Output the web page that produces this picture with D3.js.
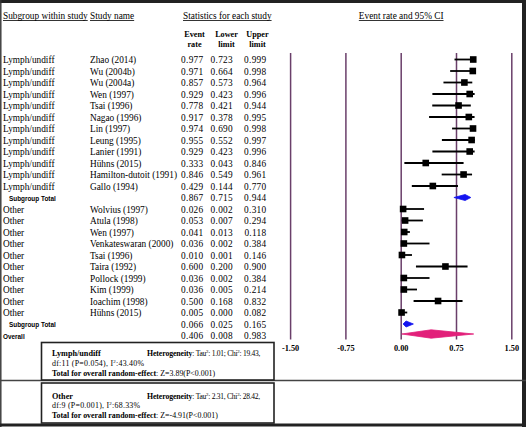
<!DOCTYPE html>
<html>
<head>
<meta charset="utf-8">
<script src="https://cdn.jsdelivr.net/npm/d3@7/dist/d3.min.js"></script>
<style>
  html, body { margin: 0; padding: 0; background: #fff; }
  svg { display: block; }
  .serif { font-family: "Liberation Serif", "Times New Roman", serif; }
  .sans { font-family: "Liberation Sans", Arial, sans-serif; }
</style>
</head>
<body>
<svg id="chart" width="526" height="427"></svg>
<script>
// ---------- data ----------
const subgroups = [
  "Lymph/undiff","Lymph/undiff","Lymph/undiff","Lymph/undiff","Lymph/undiff","Lymph/undiff",
  "Lymph/undiff","Lymph/undiff","Lymph/undiff","Lymph/undiff","Lymph/undiff","Lymph/undiff",
  "Subgroup Total",
  "Other","Other","Other","Other","Other","Other","Other","Other","Other","Other",
  "Subgroup Total",
  "Overall"
];
const studyNames = [
  "Zhao (2014)","Wu (2004b)","Wu (2004a)","Wen (1997)","Tsai (1996)","Nagao (1996)",
  "Lin (1997)","Leung (1995)","Lanier (1991)","Hühns (2015)","Hamilton-dutoit (1991)","Gallo (1994)",
  "",
  "Wolvius (1997)","Atula (1998)","Wen (1997)","Venkateswaran (2000)","Tsai (1996)","Taira (1992)",
  "Pollock (1999)","Kim (1999)","Ioachim (1998)","Hühns (2015)",
  "",
  ""
];
const eventRate = [0.977,0.971,0.857,0.929,0.778,0.917,0.974,0.955,0.929,0.333,0.846,0.429,
  0.867,
  0.026,0.053,0.041,0.036,0.010,0.600,0.036,0.036,0.500,0.005,
  0.066,
  0.406];
const lowerLimit = [0.723,0.664,0.573,0.423,0.421,0.378,0.690,0.552,0.423,0.043,0.549,0.144,
  0.715,
  0.002,0.007,0.013,0.002,0.001,0.200,0.002,0.005,0.168,0.000,
  0.025,
  0.008];
const upperLimit = [0.999,0.998,0.964,0.996,0.944,0.995,0.998,0.997,0.996,0.846,0.961,0.770,
  0.944,
  0.310,0.294,0.118,0.384,0.146,0.900,0.384,0.214,0.832,0.082,
  0.165,
  0.983];
const rowKind = ["study","study","study","study","study","study","study","study","study","study","study","study",
  "subtotal",
  "study","study","study","study","study","study","study","study","study","study",
  "subtotal",
  "overall"];
const axisTicks = [-1.5, -0.75, 0, 0.75, 1.5];
const tickLabels = ["-1.50","-0.75","0.00","0.75","1.50"];

const hetBoxes = [
  { group: "Lymph/undiff", tau: "1.01", tauSep: ";", chi: "19.43", df: "11", p: "0.054", i2: "43.40%", z: "3.89", pz: "P<0.001" },
  { group: "Other", tau: "2.31", tauSep: ",", chi: "28.42", df: "9", p: "0.001", i2: "68.33%", z: "-4.91", pz: "P<0.001" }
];

// ---------- drawing ----------
const svg = d3.select("#chart");
const W = 526, H = 427;

const x = d3.scaleLinear().domain([-1.5, 1.5]).range([290.6, 511.8]);
const y = d3.scaleLinear().domain([0, eventRate.length - 1]).range([59.5, 335.5]);

const rows = eventRate.map((v, i) => ({
  i, sub: subgroups[i], name: studyNames[i], v, lo: lowerLimit[i], hi: upperLimit[i], kind: rowKind[i]
}));

// frame
svg.append("rect").attr("x", 0).attr("y", 0).attr("width", W).attr("height", H).attr("fill", "#fff");
svg.append("line").attr("x1", 0).attr("x2", W).attr("y1", 1.5).attr("y2", 1.5).attr("stroke", "#222").attr("stroke-width", 3);
svg.append("line").attr("x1", 524).attr("x2", 524).attr("y1", 0).attr("y2", H).attr("stroke", "#222").attr("stroke-width", 4);
svg.append("line").attr("x1", 0.8).attr("x2", 0.8).attr("y1", 0).attr("y2", H).attr("stroke", "#333").attr("stroke-width", 1.4);
svg.append("line").attr("x1", 0).attr("x2", W).attr("y1", 425).attr("y2", 425).attr("stroke", "#222").attr("stroke-width", 3);
svg.append("line").attr("x1", 0).attr("x2", W).attr("y1", 380.5).attr("y2", 380.5).attr("stroke", "#444").attr("stroke-width", 1.3);

// headers
function underlinedText(g, tx, ty, txt, anchor) {
  const t = g.append("text").attr("class", "serif").attr("x", tx).attr("y", ty)
    .attr("font-size", 9.3).attr("text-anchor", anchor || "start").text(txt);
  const len = t.node().getComputedTextLength();
  const x0 = anchor === "middle" ? tx - len / 2 : tx;
  g.append("line").attr("x1", x0).attr("x2", x0 + len).attr("y1", ty + 2).attr("y2", ty + 2)
    .attr("stroke", "#000").attr("stroke-width", 0.8);
}
const hdr = svg.append("g");
underlinedText(hdr, 3, 18.5, "Subgroup within study");
underlinedText(hdr, 90, 18.5, "Study name");
underlinedText(hdr, 183, 18.5, "Statistics for each study");
underlinedText(hdr, x(0), 18.5, "Event rate and 95% CI", "middle");

const colHdr = [
  { cx: 194.5, l1: "Event", l2: "rate" },
  { cx: 226.5, l1: "Lower", l2: "limit" },
  { cx: 257.5, l1: "Upper", l2: "limit" }
];
colHdr.forEach(c => {
  hdr.append("text").attr("class", "serif").attr("x", c.cx).attr("y", 37).attr("text-anchor", "middle")
    .attr("font-size", 8.2).attr("font-weight", "bold").text(c.l1);
  hdr.append("text").attr("class", "serif").attr("x", c.cx).attr("y", 46.5).attr("text-anchor", "middle")
    .attr("font-size", 8.2).attr("font-weight", "bold").text(c.l2);
});

// vertical reference lines
const grid = svg.append("g");
grid.selectAll("line").data(axisTicks).join("line")
  .attr("x1", d => x(d)).attr("x2", d => x(d))
  .attr("y1", 53).attr("y2", 339.5)
  .attr("stroke", "#6a3f6a").attr("stroke-width", 1.5);
grid.selectAll("text").data(axisTicks).join("text")
  .attr("class", "serif").attr("x", d => x(d)).attr("y", 351)
  .attr("text-anchor", "middle").attr("font-size", 8.3).attr("font-weight", "bold")
  .text((d, i) => tickLabels[i]);

// table text
const tbl = svg.append("g");
const fmt = d3.format(".3f");
rows.forEach(r => {
  const by = y(r.i) + 3.5;
  if (r.kind === "study") {
    tbl.append("text").attr("class", "serif").attr("x", 3).attr("y", by).attr("font-size", 9.3).text(r.sub);
    tbl.append("text").attr("class", "serif").attr("x", 90).attr("y", by).attr("font-size", 9.3).text(r.name);
  } else {
    tbl.append("text").attr("class", "sans").attr("x", r.kind === "overall" ? 3 : 9).attr("y", by - 0.5)
      .attr("font-size", 6.4).attr("font-weight", "bold").text(r.sub);
  }
  [[203.5, r.v], [233, r.lo], [266.5, r.hi]].forEach(([cx, val]) => {
    tbl.append("text").attr("class", "serif").attr("x", cx).attr("y", by)
      .attr("text-anchor", "end").attr("font-size", 9.3).attr("letter-spacing", 0.3).text(fmt(val));
  });
});

// marks
const plot = svg.append("g");
const studies = rows.filter(r => r.kind === "study");
plot.selectAll("line.ci").data(studies).join("line").attr("class", "ci")
  .attr("x1", d => x(d.lo)).attr("x2", d => x(d.hi))
  .attr("y1", d => y(d.i)).attr("y2", d => y(d.i))
  .attr("stroke", "#000").attr("stroke-width", 1.8);
const sq = 6.6;
plot.selectAll("rect.pt").data(studies).join("rect").attr("class", "pt")
  .attr("x", d => x(d.v) - sq / 2).attr("y", d => y(d.i) - sq / 2)
  .attr("width", sq).attr("height", sq).attr("fill", "#000");

const summaries = rows.filter(r => r.kind !== "study");
plot.selectAll("path.dia").data(summaries).join("path").attr("class", "dia")
  .attr("d", d => {
    const h = d.kind === "overall" ? 4.2 : 3;
    const cy = y(d.i) - (d.kind === "overall" ? 1.5 : 0);
    return `M${x(d.lo)},${cy} L${x(d.v)},${cy - h} L${x(d.hi)},${cy} L${x(d.v)},${cy + h} Z`;
  })
  .attr("fill", d => d.kind === "overall" ? "#e2207a" : "#1414f0")
  .attr("stroke", d => d.kind === "overall" ? "#e2207a" : "#1414f0")
  .attr("stroke-width", 0.8).attr("stroke-linejoin", "round");

// heterogeneity boxes
const boxes = [{ y0: 342.5, h: 37.5 }, { y0: 383, h: 40 }];
hetBoxes.forEach((b, k) => {
  const g = svg.append("g");
  const bx = boxes[k];
  g.append("rect").attr("x", 41.5).attr("y", bx.y0).attr("width", 232.5).attr("height", bx.h)
    .attr("fill", "#fff").attr("stroke", "#222").attr("stroke-width", 1.6);
  const ly = bx.y0 + (k === 0 ? 13.5 : 15.5);
  g.append("text").attr("class", "serif").attr("x", 52).attr("y", ly).attr("font-size", 8.2)
    .attr("font-weight", "bold").text(b.group);
  const t1 = g.append("text").attr("class", "serif").attr("x", 147).attr("y", ly)
    .attr("font-size", 7.5).attr("letter-spacing", -0.25);
  t1.append("tspan").attr("font-weight", "bold").attr("font-size", 7.8).attr("letter-spacing", -0.1).text("Heterogeneity");
  t1.append("tspan").text(": Tau");
  t1.append("tspan").attr("font-size", 4.8).attr("dy", -3).text("2");
  t1.append("tspan").attr("dy", 3).text(`: ${b.tau}${b.tauSep} Chi`);
  t1.append("tspan").attr("font-size", 4.8).attr("dy", -3).text("2");
  t1.append("tspan").attr("dy", 3).text(`: ${b.chi},`);
  const t2 = g.append("text").attr("class", "serif").attr("x", 52).attr("y", ly + 9.8)
    .attr("font-size", 7.9).attr("letter-spacing", 0.25);
  t2.append("tspan").text(`df:${b.df} (P=${b.p}), I`);
  t2.append("tspan").attr("font-size", 5).attr("dy", -3).text("2");
  t2.append("tspan").attr("dy", 3).text(`:${b.i2}`);
  const t3 = g.append("text").attr("class", "serif").attr("x", 52).attr("y", ly + 19.8).attr("font-size", 7.9);
  t3.append("tspan").attr("font-weight", "bold").text("Total for overall random-effect");
  t3.append("tspan").text(`: Z=${b.z}(${b.pz})`);
});
</script>
</body>
</html>
